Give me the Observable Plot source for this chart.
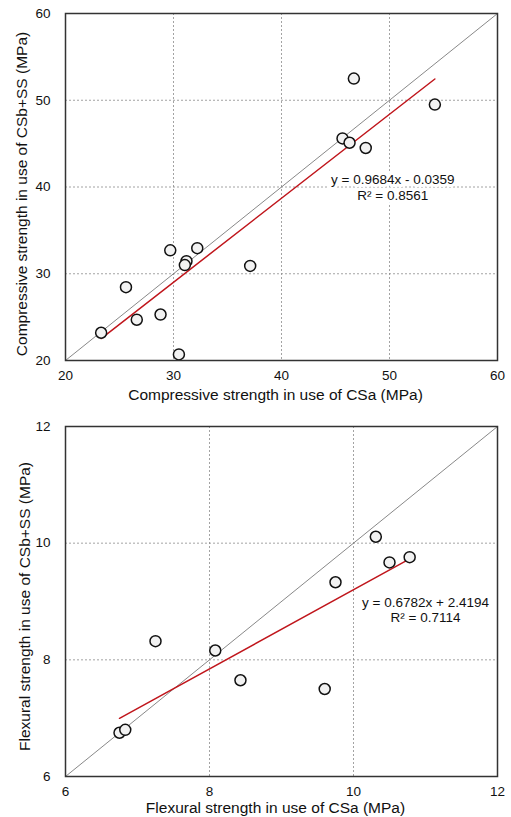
<!DOCTYPE html>
<html>
<head>
<meta charset="utf-8">
<script src="https://cdn.jsdelivr.net/npm/d3@7"></script>
<script src="https://cdn.jsdelivr.net/npm/@observablehq/plot@0.6"></script>
<style>
  html, body { margin: 0; padding: 0; background: #fff; overflow: hidden; }
  #chart { width: 511px; }
  #chart svg { display: block; }
</style>
</head>
<body>
<div id="chart"></div>
<script>
// ---- Compressive strength panel ----
const compX = [23.3, 25.6, 26.6, 28.8, 29.7, 30.5, 31.2, 31.05, 32.2, 37.1, 45.65, 46.3, 46.7, 47.8, 54.2];
const compY = [23.2, 28.45, 24.7, 25.3, 32.7, 20.7, 31.45, 31.0, 32.95, 30.9, 45.6, 45.1, 52.5, 44.5, 49.5];
const compDomain = [20, 60];
const compTicks = [20, 30, 40, 50, 60];
const compFit = {slope: 0.9684, intercept: -0.0359};
const compEq = "y = 0.9684x - 0.0359\nR² = 0.8561";
const compEqPos = {x: 50.3, y: 40.0};
const compXLabel = "Compressive strength in use of CSa (MPa)";
const compYLabel = "Compressive strength in use of CSb+SS (MPa)";

// ---- Flexural strength panel ----
const flexX = [6.75, 6.83, 7.25, 8.08, 8.43, 9.60, 9.75, 10.31, 10.5, 10.78];
const flexY = [6.75, 6.80, 8.32, 8.16, 7.65, 7.50, 9.33, 10.11, 9.67, 9.76];
const flexDomain = [6, 12];
const flexTicks = [6, 8, 10, 12];
const flexFit = {slope: 0.6782, intercept: 2.4194};
const flexEq = "y = 0.6782x + 2.4194\nR² = 0.7114";
const flexEqPos = {x: 11.0, y: 8.86};
const flexXLabel = "Flexural strength in use of CSa (MPa)";
const flexYLabel = "Flexural strength in use of CSb+SS (MPa)";

function panel({xs, ys, domain, ticks, fit, eq, eqPos, xLabel, yLabel, height, marginTop, marginBottom, xLabelDy, yLabelDx, yLabelDy}) {
  const pts = xs.map((x, i) => ({x, y: ys[i]}));
  const inner = ticks.slice(1, -1);
  const diag = domain.map(v => ({x: v, y: v}));
  const [x0, x1] = d3.extent(xs);
  const trend = [x0, x1].map(x => ({x, y: fit.slope * x + fit.intercept}));
  const fmt = d => String(d);
  return Plot.plot({
    width: 511,
    height,
    marginLeft: 65,
    marginRight: 14,
    marginTop,
    marginBottom,
    x: {domain, ticks},
    y: {domain, ticks},
    style: {fontFamily: "'Liberation Sans', Arial, sans-serif", fontSize: "13.5px", color: "#111", background: "#fff"},
    marks: [
      Plot.gridX(inner, {stroke: "#8c8c8c", strokeOpacity: 1, strokeDasharray: "2,2", strokeWidth: 0.8}),
      Plot.gridY(inner, {stroke: "#8c8c8c", strokeOpacity: 1, strokeDasharray: "2,2", strokeWidth: 0.8}),
      Plot.line(diag, {x: "x", y: "y", stroke: "#7a7a7a", strokeWidth: 0.9}),
      Plot.line(trend, {x: "x", y: "y", stroke: "#c0161c", strokeWidth: 1.5}),
      Plot.dot(pts, {x: "x", y: "y", r: 5.5, fill: "#f2f2f2", stroke: "#111", strokeWidth: 1.5}),
      Plot.text([eqPos], {x: "x", y: "y", text: () => eq, fontSize: 13.5, lineHeight: 1.15, textAnchor: "middle", fill: "#111", stroke: "#fff", strokeWidth: 6}),
      Plot.axisX({ticks, tickSize: 0, tickPadding: 10, tickFormat: fmt, label: null}),
      Plot.axisY({ticks, tickSize: 0, tickPadding: 15, tickFormat: fmt, label: null}),
      Plot.text([xLabel], {text: d => d, frameAnchor: "bottom", dx: -6, dy: xLabelDy, lineAnchor: "middle", fontSize: 15.5, fill: "#111"}),
      Plot.text([yLabel], {text: d => d, frameAnchor: "left", dx: yLabelDx, dy: yLabelDy, rotate: -90, lineAnchor: "middle", textAnchor: "middle", fontSize: 15.5, fill: "#111"}),
      Plot.frame({stroke: "#333", strokeWidth: 1.5})
    ]
  });
}

const chart = document.getElementById("chart");
chart.append(panel({xs: compX, ys: compY, domain: compDomain, ticks: compTicks, fit: compFit, eq: compEq, eqPos: compEqPos,
  xLabel: compXLabel, yLabel: compYLabel, height: 410, marginTop: 13, marginBottom: 50, xLabelDy: 35, yLabelDx: -43, yLabelDy: 7}));
chart.append(panel({xs: flexX, ys: flexY, domain: flexDomain, ticks: flexTicks, fit: flexFit, eq: flexEq, eqPos: flexEqPos,
  xLabel: flexXLabel, yLabel: flexYLabel, height: 407, marginTop: 16, marginBottom: 41, xLabelDy: 32, yLabelDx: -40, yLabelDy: 5}));
</script>
</body>
</html>
